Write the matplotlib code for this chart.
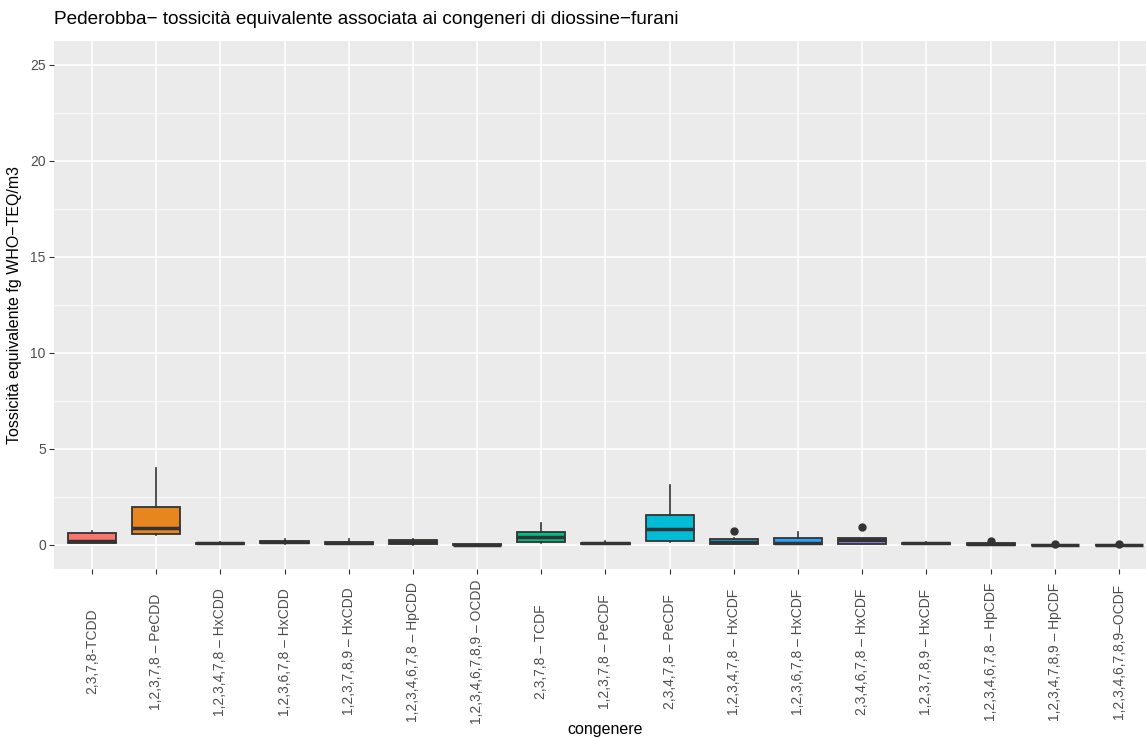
import matplotlib
matplotlib.use("Agg")
import matplotlib.pyplot as plt
import numpy as np

plt.rcParams['font.family'] = ['Liberation Sans', 'DejaVu Sans']

congeneri = ["2,3,7,8-TCDD", "1,2,3,7,8 \u2013 PeCDD", "1,2,3,4,7,8 \u2013 HxCDD",
             "1,2,3,6,7,8 \u2013 HxCDD", "1,2,3,7,8,9 \u2013 HxCDD",
             "1,2,3,4,6,7,8 \u2013 HpCDD", "1,2,3,4,6,7,8,9 \u2013 OCDD",
             "2,3,7,8 \u2013 TCDF", "1,2,3,7,8 \u2013 PeCDF", "2,3,4,7,8 \u2013 PeCDF",
             "1,2,3,4,7,8 \u2013 HxCDF", "1,2,3,6,7,8 \u2013 HxCDF",
             "2,3,4,6,7,8 \u2013 HxCDF", "1,2,3,7,8,9 \u2013 HxCDF",
             "1,2,3,4,6,7,8 \u2013 HpCDF", "1,2,3,4,7,8,9 \u2013 HpCDF",
             "1,2,3,4,6,7,8,9\u2013OCDF"]

# box statistics (fg WHO-TEQ/m3)
whislo = [0.08, 0.50, 0.03, 0.05, 0.05, 0.02, 0.00, 0.10, 0.04, 0.15, 0.03, 0.03, 0.03, 0.04, 0.01, 0.00, 0.00]
q1 =     [0.12, 0.56, 0.05, 0.08, 0.07, 0.05, 0.01, 0.14, 0.06, 0.20, 0.04, 0.05, 0.05, 0.06, 0.02, 0.005, 0.005]
med =    [0.20, 0.88, 0.08, 0.14, 0.12, 0.15, 0.02, 0.40, 0.09, 0.83, 0.18, 0.10, 0.27, 0.09, 0.05, 0.012, 0.012]
q3 =     [0.61, 1.99, 0.12, 0.20, 0.17, 0.25, 0.03, 0.68, 0.12, 1.55, 0.32, 0.36, 0.36, 0.12, 0.09, 0.02, 0.02]
whishi = [0.74, 3.99, 0.14, 0.33, 0.30, 0.32, 0.04, 1.13, 0.20, 3.12, 0.34, 0.69, 0.38, 0.15, 0.11, 0.025, 0.025]
outliers = [[], [], [], [], [], [], [], [], [], [], [0.74], [], [0.94], [], [0.21], [0.03], [0.03]]

yticks = [0, 5, 10, 15, 20, 25]


def hcl_to_hex(h, c=100.0, l=65.0):
    # polarLUV -> sRGB, white point D65 (same as grDevices::hcl)
    xn, yn, zn = 95.047, 100.0, 108.883
    un = 4 * xn / (xn + 15 * yn + 3 * zn)
    vn = 9 * yn / (xn + 15 * yn + 3 * zn)
    u = c * np.cos(np.radians(h))
    v = c * np.sin(np.radians(h))
    Y = yn * ((l + 16) / 116) ** 3 if l > 8 else yn * l / 903.3
    up = u / (13 * l) + un
    vp = v / (13 * l) + vn
    X = 9.0 * Y * up / (4 * vp)
    Z = -X / 3 - 5 * Y + 3 * Y / vp
    xyz = np.array([X, Y, Z]) / 100
    m = np.array([[3.240479, -1.537150, -0.498535],
                  [-0.969256, 1.875992, 0.041556],
                  [0.055648, -0.204043, 1.057311]])
    rgb = m @ xyz
    rgb = np.where(rgb > 0.0031308, 1.055 * np.abs(rgb) ** (1 / 2.4) - 0.055, 12.92 * rgb)
    rgb = np.clip(rgb, 0, 1)
    return '#%02x%02x%02x' % tuple(int(round(x * 255)) for x in rgb)


n = len(congeneri)
hues = 15 + np.arange(n) * 360 / n
colors = [hcl_to_hex(h) for h in hues]

stats = []
for i in range(n):
    stats.append(dict(whislo=whislo[i], q1=q1[i], med=med[i], q3=q3[i],
                      whishi=whishi[i], fliers=outliers[i]))

fig = plt.figure(figsize=(11.46, 7.38), dpi=100)
ax = fig.add_axes([53.5 / 1146, 1 - 569 / 738, (1157.5 - 53.5) / 1146, (569 - 40.5) / 738])
ax.set_facecolor('#EBEBEB')

pos = np.arange(1, n + 1)
bp = ax.bxp(stats, positions=pos, widths=0.75, patch_artist=True, showcaps=False,
            boxprops=dict(edgecolor='#333333', linewidth=1.3),
            medianprops=dict(color='#333333', linewidth=2.5, solid_capstyle='butt'),
            whiskerprops=dict(color='#333333', linewidth=1.2),
            flierprops=dict(marker='o', markerfacecolor='#333333', markeredgecolor='#333333',
                            markersize=5, linestyle='none'))
for patch, col in zip(bp['boxes'], colors):
    patch.set_facecolor(col)
    patch.set_zorder(3)
for key in ['medians', 'whiskers', 'fliers']:
    for art in bp[key]:
        art.set_zorder(3)

ax.set_xlim(0.4, n + 0.6)
ax.set_ylim(-1.25, 26.25)
ax.set_yticks(yticks)
ax.set_yticks([2.5, 7.5, 12.5, 17.5, 22.5], minor=True)
ax.set_xticks(pos)
ax.set_xticklabels(congeneri, rotation=90, va='center', ha='center')
ax.grid(which='major', color='white', linewidth=1.1)
ax.grid(which='minor', axis='y', color='white', linewidth=0.55)
ax.set_axisbelow(True)
for s in ax.spines.values():
    s.set_visible(False)
ax.tick_params(axis='both', which='major', color='#333333', length=3.5, width=0.8,
               labelcolor='#4D4D4D', labelsize=10)
ax.tick_params(axis='x', pad=56)
ax.tick_params(axis='y', pad=2)
ax.tick_params(which='minor', length=0)

ax.set_xlabel('congenere', fontsize=11.5, va='baseline')
ax.xaxis.set_label_coords(0.5, -(734 - 569) / 528.5)
ax.set_ylabel('Tossicit\u00e0 equivalente fg WHO\u2212TEQ/m3', fontsize=11.5, labelpad=6)
fig.text(53.5 / 1146, 1 - 20 / 738, 'Pederobba\u2212 tossicit\u00e0 equivalente associata ai congeneri di diossine\u2212furani',
         fontsize=13.7, ha='left', va='center')

fig.savefig('out.png', dpi=100)
